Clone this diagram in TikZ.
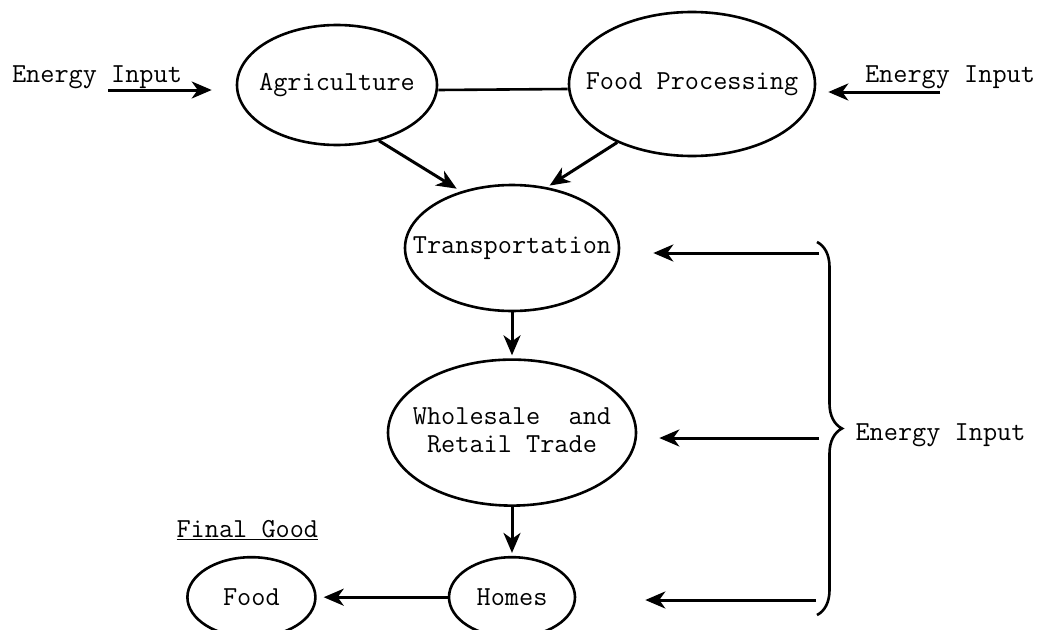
\documentclass[tikz,border=0pt]{standalone}
\usetikzlibrary{arrows.meta,positioning,shapes.geometric,decorations.pathreplacing}

\begin{document}
\begin{tikzpicture}[x=1pt,y=-1pt,
    font=\ttfamily\fontsize{27.5}{28}\selectfont,
    sector/.style={ellipse,draw,line width=2.6pt,inner sep=0pt},
    flow/.style={-{Stealth[length=20pt,width=17pt,inset=6pt]},line width=3pt},
    tag/.style={anchor=base}
  ]
    \useasboundingbox (0,0) rectangle (1054,629);
    \node[sector,minimum width=200pt,minimum height=120pt] (agr) at (337,85) {\makebox[0pt]{Agriculture}};
    \node[sector,minimum width=246pt,minimum height=144pt] (fp) at (692,84) {\makebox[0pt]{Food Processing}};
    \node[sector,minimum width=214pt,minimum height=126pt] (trans) at (512,248) {\makebox[0pt]{Transportation}};
    \node[sector,minimum width=248pt,minimum height=146pt,below=46pt of trans] (whole)
      {\makebox[0pt]{\begin{tabular}{@{}c@{}}Wholesale~~and\\Retail Trade\end{tabular}}};
    \node[sector,minimum width=126pt,minimum height=80pt,below=49pt of whole] (homes) {\makebox[0pt]{Homes}};
    \node[sector,minimum width=128pt,minimum height=80pt,left=131pt of homes] (food) {\makebox[0pt]{Food}};
    \node[anchor=base west] (fg) at (173,537) {\underline{Final Good}};

    \node[tag] (eA) at (97,82) {Energy Input};
    \node[tag] (eF) at (950,82) {Energy Input};
    \node[anchor=base west] (eR) at (852,440) {Energy Input};

    \coordinate (inA) at (108,90);
    \coordinate (inF) at (940,92);
    \coordinate (btop) at (817,242);
    \coordinate (bbot) at (817,615);
    \coordinate (r1) at (819,253);
    \coordinate (r2) at (819,438);
    \coordinate (r3) at (816,600);

    \draw[line width=2.6pt] ([yshift=-5pt]agr.east) -- ([yshift=-5pt]fp.west);
    \draw[flow,shorten >=24pt] (inA) -- (inA -| agr.west);
    \draw[flow,shorten >=12pt] (inF) -- (inF -| fp.east);
    \draw[flow,shorten >=5pt] (agr.-53) -- (trans.132);
    \draw[flow,shorten >=3pt] (fp.218) -- (trans.60);
    \draw[flow,shorten >=3pt] (trans.south) -- (trans.south |- whole.north);
    \draw[flow,shorten >=3pt] (whole.south) -- (whole.south |- homes.north);
    \draw[flow,shorten >=7pt] (homes.west) -- (food.east);

    % brace and the inputs it feeds
    \draw[line width=2.6pt,decorate,decoration={brace,amplitude=25pt}] (btop) -- (bbot);
    \draw[flow,shorten >=33pt] (r1) -- (r1 -| trans.east);
    \draw[flow,shorten >=22pt] (r2) -- (r2 -| whole.east);
    \draw[flow,shorten >=69pt] (r3) -- (r3 -| homes.east);
\end{tikzpicture}
\end{document}
